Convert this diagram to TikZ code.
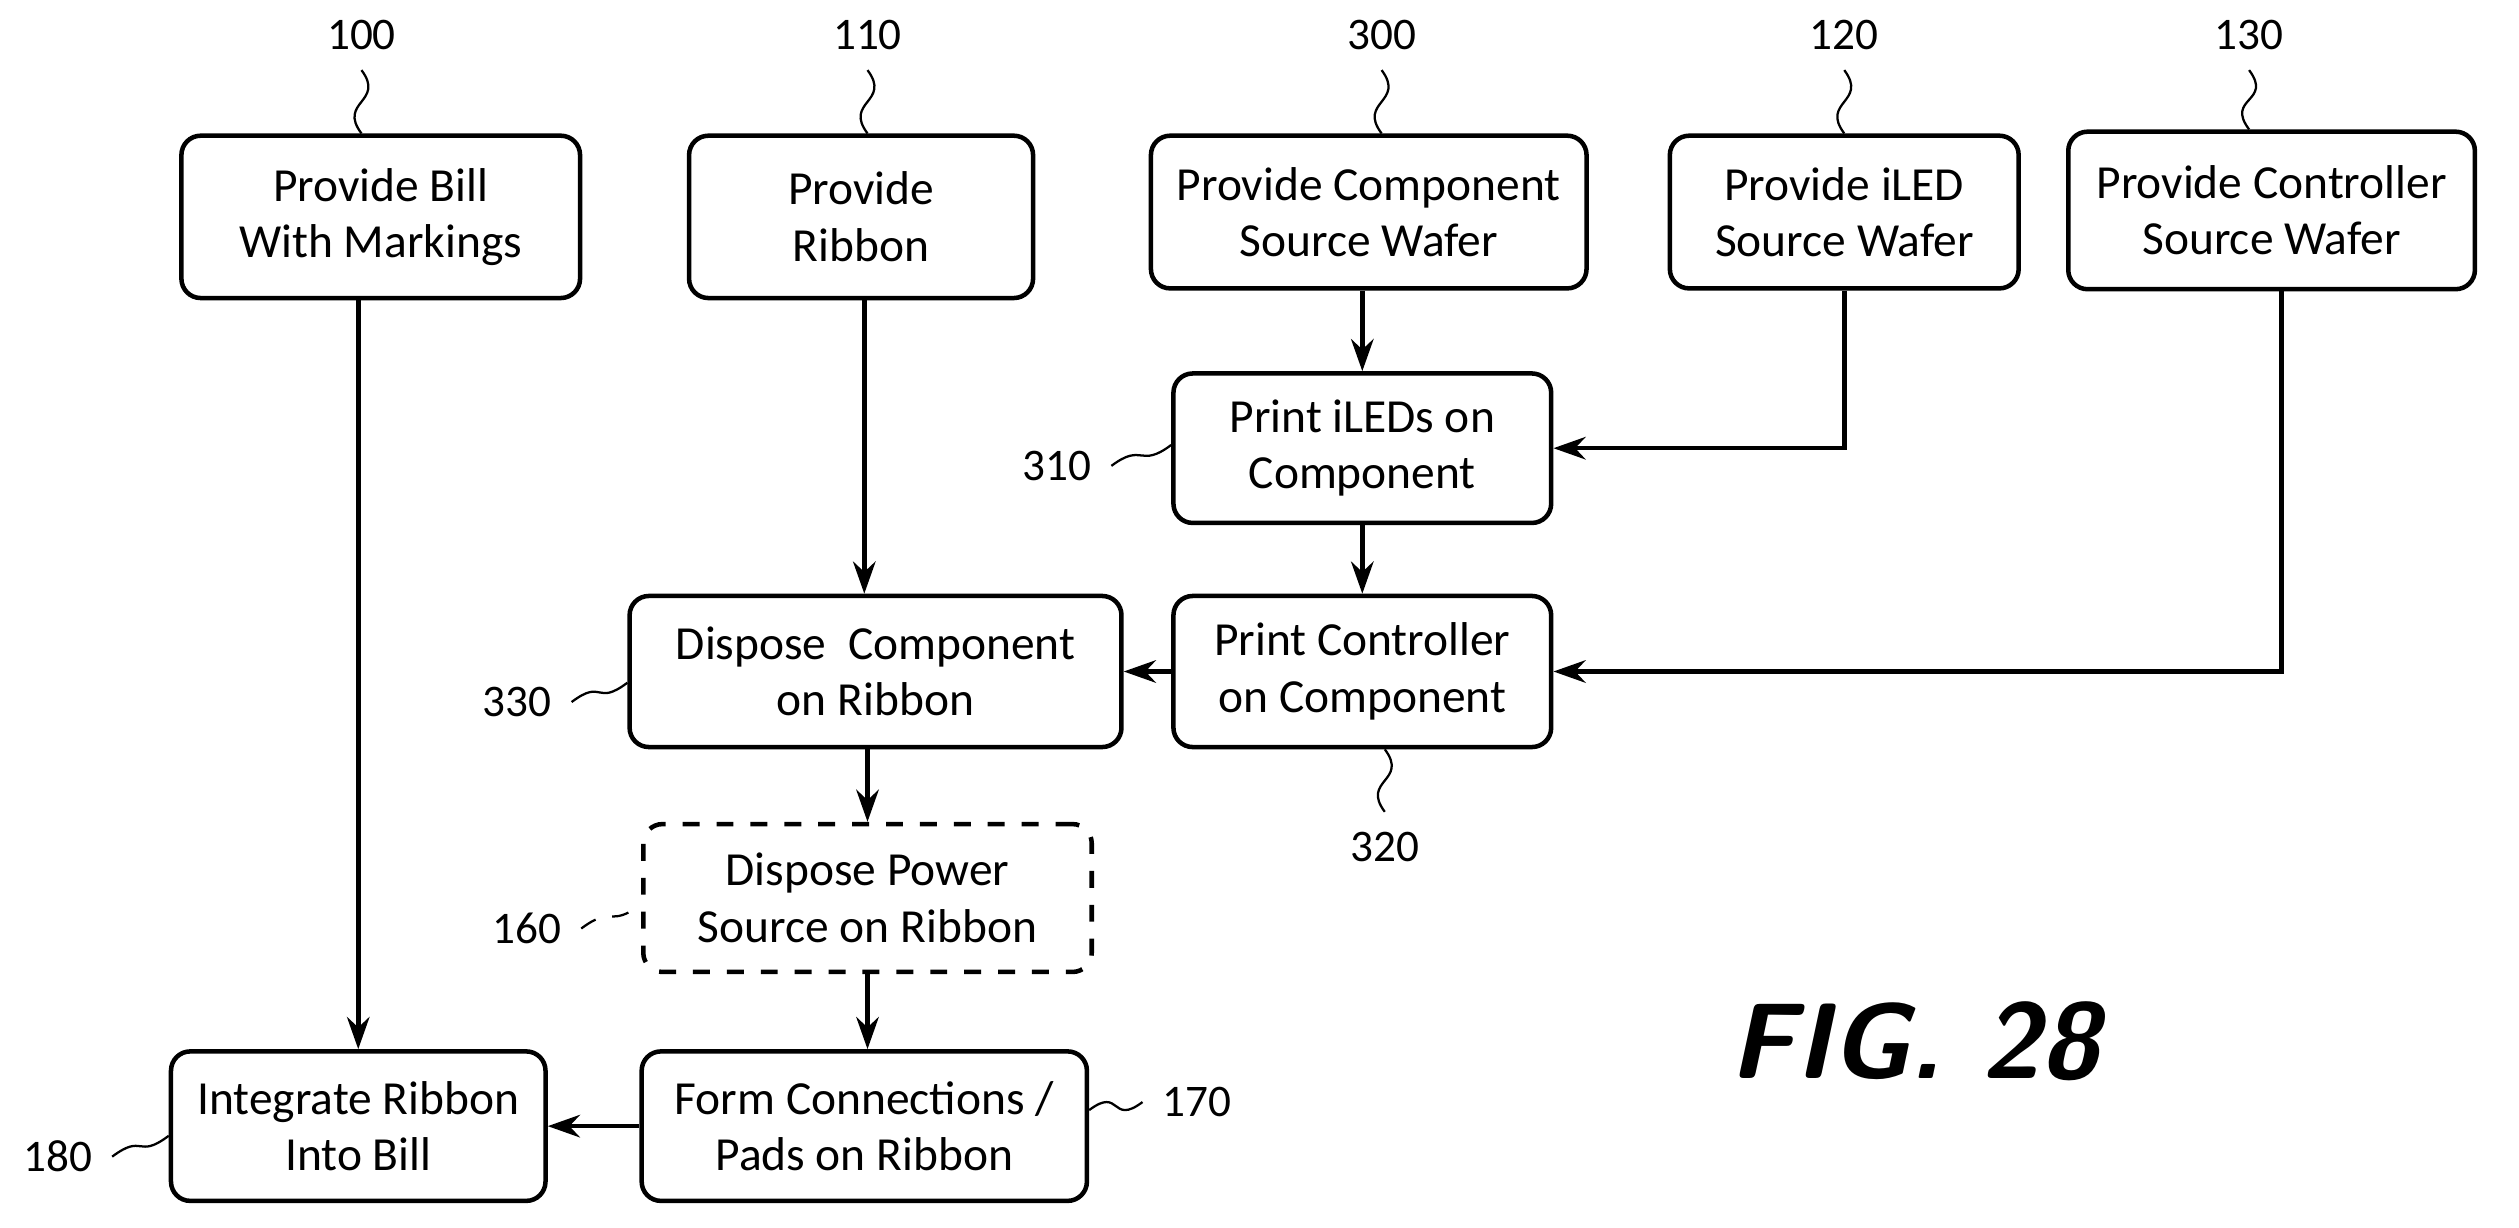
\documentclass[tikz,border=0pt]{standalone}
\usepackage{fontspec}
\setmainfont{Carlito}
\usetikzlibrary{arrows.meta}
\tikzset{
  box/.style={draw,line width=0.8pt,rounded corners=0.12cm,align=center,font=\fontsize{8.4}{10}\selectfont},
  lbl/.style={font=\fontsize{8}{9}\selectfont},
  flow/.style={line width=0.8pt,-{Stealth[length=0.2cm,width=0.14cm]}},
  lead/.style={line width=0.4pt}
}
\begin{document}
\begin{tikzpicture}[x=0.01cm,y=-0.01cm]
    \useasboundingbox (0,0) rectangle (1568,764);
    % boxes
    \node[box,minimum width=2.48cm,minimum height=1.01cm] (b100) at (237,135) {Provide Bill\\With Markings};
    \node[box,minimum width=2.14cm,minimum height=1.01cm] (b110) at (536,135) {Provide\\Ribbon};
    \node[box,minimum width=2.71cm,minimum height=0.95cm] (b300) at (852,132) {Provide Component\\Source Wafer};
    \node[box,minimum width=2.17cm,minimum height=0.95cm] (b120) at (1148,132) {Provide iLED\\Source Wafer};
    \node[box,minimum width=2.53cm,minimum height=0.98cm] (b130) at (1414,131) {Provide Controller\\Source Wafer};
    \node[box,minimum width=2.35cm,minimum height=0.93cm] (b310) at (848,279) {Print iLEDs on\\Component};
    \node[box,minimum width=3.06cm,minimum height=0.94cm] (b330) at (545,418) {Dispose\ \ Component\\on Ribbon};
    \node[box,minimum width=2.35cm,minimum height=0.94cm] (b320) at (848,418) {Print Controller\\on Component};
    \node[box,dashed,minimum width=2.79cm,minimum height=0.92cm] (b160) at (540,559) {Dispose Power\\Source on Ribbon};
    \node[box,minimum width=2.33cm,minimum height=0.93cm] (b180) at (223,701) {Integrate Ribbon\\Into Bill};
    \node[box,minimum width=2.77cm,minimum height=0.93cm] (b170) at (538,701) {Form Connections /\\Pads on Ribbon};
    % reference numerals
    \node[lbl] (l100) at (225,22) {100};
    \node[lbl] (l110) at (540,22) {110};
    \node[lbl] (l300) at (860,22) {300};
    \node[lbl] (l120) at (1148,22) {120};
    \node[lbl] (l130) at (1400,22) {130};
    \node[lbl] (l310) at (658,290) {310};
    \node[lbl] (l330) at (322,437) {330};
    \node[lbl] (l320) at (862,527) {320};
    \node[lbl] (l160) at (328,578) {160};
    \node[lbl] (l180) at (36,720) {180};
    \node[lbl] (l170) at (745,686) {170};
    \node[font=\sffamily\bfseries\itshape\fontsize{19}{22}\selectfont] (fig) at (1192,648) {FIG. 28};
    % leaders
    \draw[lead] (l100.south) .. controls +(15,20) and +(-15,-20) .. (b100.north -| l100.south);
    \draw[lead] (l110.south) .. controls +(15,20) and +(-15,-20) .. (b110.north -| l110.south);
    \draw[lead] (l300.south) .. controls +(15,20) and +(-15,-20) .. (b300.north -| l300.south);
    \draw[lead] (l120.south) .. controls +(15,20) and +(-15,-20) .. (b120.north -| l120.south);
    \draw[lead] (l130.south) .. controls +(15,20) and +(-15,-20) .. (b130.north -| l130.south);
    \draw[lead] (l310.east) .. controls +(20,-15) and +(-20,15) .. (b310.west |- 0,277);
    \draw[lead] (l330.east) .. controls +(20,-15) and +(-20,15) .. (b330.west |- 0,425);
    \draw[lead] (l320.north) .. controls +(-15,-20) and +(15,20) .. (b320.south -| l320.north);
    \draw[lead,dashed] (l160.east) .. controls +(20,-15) and +(-20,15) .. (b160.west |- 0,563);
    \draw[lead] (l180.east) .. controls +(20,-15) and +(-20,15) .. (b180.west |- 0,707);
    \draw[lead] (l170.west) .. controls +(-20,15) and +(20,-15) .. (b170.east |- 0,691);
    % flow
    \draw[flow] (b100.south -| b180) -- (b180.north);
    \draw[flow] (b110.south -| 538,0) -- (b330.north -| 538,0);
    \draw[flow] (b300.south -| b310) -- (b310.north);
    \draw[flow] (b120.south) |- (b310.east);
    \draw[flow] (b130.south -| 1420,0) |- (b320.east);
    \draw[flow] (b310) -- (b320);
    \draw[flow] (b320) -- (b330);
    \draw[flow] (b330.south -| b160) -- (b160.north);
    \draw[flow] (b160.south) -- (b170.north -| b160.south);
    \draw[flow] (b170) -- (b180);
\end{tikzpicture}
\end{document}
